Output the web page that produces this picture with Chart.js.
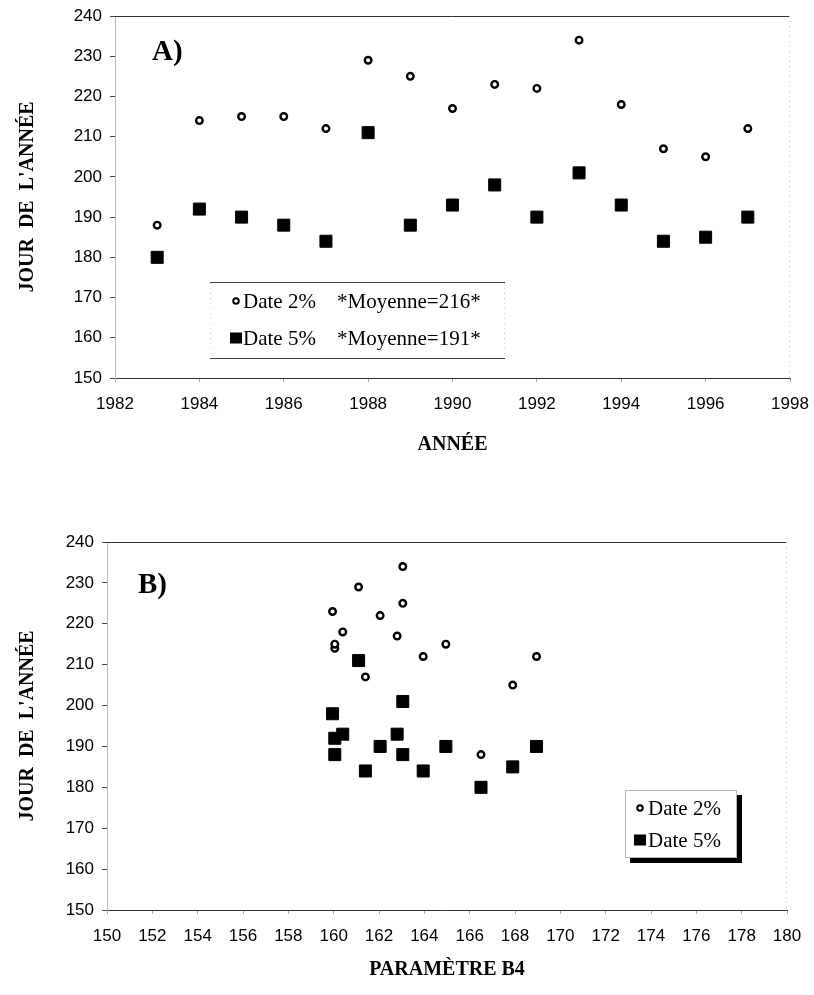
<!DOCTYPE html>
<html>
<head>
<meta charset="utf-8">
<script src="https://cdn.jsdelivr.net/npm/chart.js@4.4.1/dist/chart.umd.min.js"></script>
<style>
  body { margin: 0; background: #fff; width: 814px; height: 995px; position: relative; overflow: hidden; }
  canvas { position: absolute; left: 0; }
  #chartA { top: 0; }
  #chartB { top: 497px; }
</style>
</head>
<body>
<canvas id="chartA" width="814" height="480"></canvas>
<canvas id="chartB" width="814" height="498"></canvas>
<script>
// donnees
var annees = [1983, 1984, 1985, 1986, 1987, 1988, 1989, 1990, 1991, 1992, 1993, 1994, 1995, 1996, 1997]
var date2 = [188, 214, 215, 215, 212, 229, 225, 217, 223, 222, 234, 218, 207, 205, 212]
var date5 = [180, 192, 190, 188, 184, 211, 188, 193, 198, 190, 201, 193, 184, 185, 190]
var b4 = [166.5, 160.05, 164.95, 160.05, 163.95, 161.1, 163.05, 162.8, 159.95, 162.05, 163.05, 160.4, 161.4, 167.9, 168.95]
var etiquettes = ['Date 2%', 'Date 5%']
var axeJour = [150, 240, 10]
var axeAnnee = [1982, 1998, 2]
var axeB4 = [150, 180, 2]

var sans = '"Liberation Sans", Arial, sans-serif'
var serif = '"Liberation Serif", "Times New Roman", serif'

function points(xs, ys) {
    return xs.map(function (x, i) { return { x: x, y: ys[i] } })
}

function moyenne(vals) {
    var s = 0
    for (var i = 0; i < vals.length; i++) s += vals[i]
    return Math.round(s / vals.length)
}

function datasets(xs) {
    return [{
        label: etiquettes[0],
        data: points(xs, date2),
        pointStyle: 'circle',
        radius: 3.3,
        borderWidth: 2.4,
        borderColor: '#000',
        backgroundColor: '#fff'
    }, {
        label: etiquettes[1],
        data: points(xs, date5),
        pointStyle: 'rect',
        radius: 8.5,
        borderWidth: 1,
        borderColor: '#000',
        backgroundColor: '#000'
    }]
}

function marqueur(ctx, i, x, y) {
    ctx.lineWidth = 2
    ctx.strokeStyle = '#000'
    if (i === 0) {
        ctx.fillStyle = '#fff'
        ctx.beginPath()
        ctx.arc(x, y, 2.8, 0, Math.PI * 2)
        ctx.fill()
        ctx.stroke()
    } else {
        ctx.fillStyle = '#000'
        ctx.fillRect(x - 6, y - 5.5, 12, 11)
    }
}

// cadre du graphique + lettre du panneau
var cadre = {
    id: 'cadre',
    afterDraw: function (chart, args, opts) {
        var ctx = chart.ctx, a = chart.chartArea
        ctx.save()
        ctx.strokeStyle = '#333'
        ctx.lineWidth = 1
        ctx.beginPath()
        ctx.moveTo(a.left, a.top + 0.5)
        ctx.lineTo(a.right, a.top + 0.5)
        ctx.stroke()
        ctx.strokeStyle = '#bbb'
        ctx.setLineDash([1, 4])
        ctx.beginPath()
        ctx.moveTo(a.right - 0.5, a.top)
        ctx.lineTo(a.right - 0.5, a.bottom)
        ctx.stroke()
        ctx.setLineDash([])
        ctx.fillStyle = '#000'
        ctx.font = 'bold 29px ' + serif
        ctx.textBaseline = 'alphabetic'
        ctx.fillText(opts.lettre, opts.lx, opts.ly)
        ctx.restore()
    }
}

var legendeA = {
    id: 'legendeA',
    afterDraw: function (chart) {
        var ctx = chart.ctx
        var series = [date2, date5]
        var rows = [301, 338]
        ctx.save()
        ctx.strokeStyle = '#444'
        ctx.lineWidth = 1
        ctx.beginPath()
        ctx.moveTo(210, 282.5); ctx.lineTo(505, 282.5)
        ctx.moveTo(210, 358.5); ctx.lineTo(505, 358.5)
        ctx.stroke()
        ctx.strokeStyle = '#ccc'
        ctx.setLineDash([1, 4])
        ctx.beginPath()
        ctx.moveTo(210.5, 283); ctx.lineTo(210.5, 358)
        ctx.moveTo(504.5, 283); ctx.lineTo(504.5, 358)
        ctx.stroke()
        ctx.setLineDash([])
        ctx.font = '21px ' + serif
        ctx.textBaseline = 'middle'
        chart.data.datasets.forEach(function (ds, i) {
            marqueur(ctx, i, 236, rows[i])
            ctx.fillStyle = '#000'
            ctx.fillText(ds.label, 243, rows[i] + 1)
            ctx.fillText('*Moyenne=' + moyenne(series[i]) + '*', 337, rows[i] + 1)
        })
        ctx.restore()
    }
}

var legendeB = {
    id: 'legendeB',
    afterDraw: function (chart) {
        var ctx = chart.ctx
        var rows = [311, 343]
        ctx.save()
        ctx.fillStyle = '#000'
        ctx.fillRect(630, 298, 112, 68)
        ctx.fillStyle = '#fff'
        ctx.fillRect(625, 293, 112, 68)
        ctx.strokeStyle = '#bbb'
        ctx.lineWidth = 1
        ctx.strokeRect(625.5, 293.5, 111, 67)
        ctx.font = '21px ' + serif
        ctx.textBaseline = 'middle'
        chart.data.datasets.forEach(function (ds, i) {
            marqueur(ctx, i, 640, rows[i])
            ctx.fillStyle = '#000'
            ctx.fillText(ds.label, 648, rows[i] + 1)
        })
        ctx.restore()
    }
}

function options(axeX, titreX, yWidth, xHeight, padTop, padRight, titrePadBas, lettre, ly) {
    return {
        responsive: false,
        animation: false,
        devicePixelRatio: 1,
        layout: { autoPadding: false, padding: { top: padTop, right: padRight, left: 0, bottom: 0 } },
        plugins: {
            legend: { display: false },
            tooltip: { enabled: false },
            cadre: { lettre: lettre, lx: yWidth + (lettre === 'A)' ? 37 : 31), ly: ly }
        },
        scales: {
            x: {
                type: 'linear',
                min: axeX[0],
                max: axeX[1],
                afterFit: function (s) {
                    s.height = xHeight
                    s.paddingLeft = 0
                    s.paddingRight = 0
                },
                border: { color: '#333', width: 1 },
                grid: { drawOnChartArea: false, drawTicks: true, tickLength: 4, color: '#aaa' },
                ticks: {
                    stepSize: axeX[2],
                    padding: 12,
                    color: '#000',
                    font: { family: sans, size: 17 },
                    maxRotation: 0,
                    callback: function (v) { return String(v) }
                },
                title: {
                    display: true,
                    text: titreX,
                    color: '#000',
                    font: { family: serif, size: 20, weight: 'bold', lineHeight: 1.2 },
                    padding: { top: 0, bottom: titrePadBas }
                }
            },
            y: {
                min: axeJour[0],
                max: axeJour[1],
                afterFit: function (s) {
                    s.width = yWidth
                    s.paddingTop = 0
                    s.paddingBottom = 0
                },
                border: { color: '#bbb', width: 1, dash: [1, 3] },
                grid: { drawOnChartArea: false, drawTicks: true, tickLength: 5, color: '#444' },
                ticks: {
                    stepSize: axeJour[2],
                    padding: 8,
                    color: '#000',
                    font: { family: sans, size: 17 }
                },
                title: {
                    display: true,
                    text: "JOUR  DE  L'ANNÉE",
                    color: '#000',
                    font: { family: serif, size: 20, weight: 'bold', lineHeight: 1.2 },
                    padding: { top: 16, bottom: 0 }
                }
            }
        }
    }
}

var chartA = new Chart(document.getElementById('chartA'), {
    type: 'scatter',
    data: { datasets: datasets(annees) },
    options: options(axeAnnee, 'ANNÉE', 115, 102, 16, 24, 23, 'A)', 60),
    plugins: [cadre, legendeA]
})

var chartB = new Chart(document.getElementById('chartB'), {
    type: 'scatter',
    data: { datasets: datasets(b4) },
    options: options(axeB4, 'PARAMÈTRE B4', 107, 85, 45, 27, 13, 'B)', 96),
    plugins: [cadre, legendeB]
})
</script>
</body>
</html>
